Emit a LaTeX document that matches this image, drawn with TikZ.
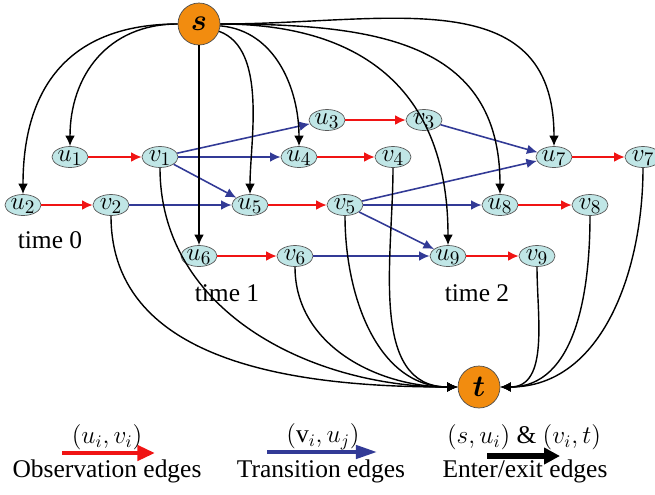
\documentclass[tikz,border=0pt]{standalone}
\usepackage{fontspec}
\setmainfont{Liberation Serif}
\usetikzlibrary{shapes.geometric, arrows.meta}
\definecolor{nodefill}{RGB}{192,230,230}
\definecolor{stfill}{RGB}{242,140,15}
\definecolor{obsred}{RGB}{240,20,20}
\definecolor{transblue}{RGB}{50,58,150}

\begin{document}
\begin{tikzpicture}[x=0.02cm, y=-0.02cm, >={Latex[length=6pt,width=5.5pt]},
		state/.style={ellipse, draw=gray!70!black, fill=nodefill, inner sep=0pt, text height=6.5pt, text depth=1.5pt, minimum width=0.72cm, minimum height=0.42cm, font=\fontsize{15}{17}\selectfont},
		term/.style={circle, draw=gray!60!black, fill=stfill, minimum size=0.84cm, inner sep=0pt, font=\fontsize{17}{19}\selectfont\boldmath},
		obs/.style={->, obsred, line width=0.8pt},
		trans/.style={->, transblue, line width=0.9pt},
		enter/.style={->, black, line width=0.8pt},
		lbl/.style={font=\fontsize{14.5}{17}\selectfont}]
			\useasboundingbox (0,0) rectangle (655,494);

			\node (s)[term] at (199,24) {$s$};
			\node (t)[term] at (479,387) {$t$};

			\node (u1)[state] at (70,157) {$u_1$};
			\node (v1)[state] at (160,157) {$v_1$};
			\node (u2)[state] at (23,205) {$u_2$};
			\node (v2)[state] at (111,205) {$v_2$};
			\node (T0)[lbl] at (50,240) {time 0};

			\node (u3)[state] at (327,120) {$u_3$};
			\node (v3)[state] at (424,120) {$v_3$};
			\node (u4)[state] at (299,157) {$u_4$};
			\node (v4)[state] at (393,157) {$v_4$};
			\node (u5)[state] at (250,205) {$u_5$};
			\node (v5)[state] at (345,205) {$v_5$};
			\node (u6)[state] at (199,256) {$u_6$};
			\node (v6)[state] at (295,256) {$v_6$};
			\node (T1)[lbl] at (227,293) {time 1};

			\node (u7)[state] at (554,157) {$u_7$};
			\node (v7)[state] at (643,157) {$v_7$};
			\node (u8)[state] at (500,205) {$u_8$};
			\node (v8)[state] at (590,205) {$v_8$};
			\node (u9)[state] at (448,256) {$u_9$};
			\node (v9)[state] at (537,256) {$v_9$};
			\node (T2)[lbl] at (477,293) {time 2};

			% observation edges
			\draw[obs] (u1) -- (v1);
			\draw[obs] (u2) -- (v2);
			\draw[obs] (u3) -- (v3);
			\draw[obs] (u4) -- (v4);
			\draw[obs] (u5) -- (v5);
			\draw[obs] (u6) -- (v6);
			\draw[obs] (u7) -- (v7);
			\draw[obs] (u8) -- (v8);
			\draw[obs] (u9) -- (v9);

			% transition edges
			\draw[trans] (v1) -- (u3);
			\draw[trans] (v1) -- (u4);
			\draw[trans] (v1) -- (u5);
			\draw[trans] (v2) -- (u5);
			\draw[trans] (v3) -- (u7);
			\draw[trans] (v5) -- (u7);
			\draw[trans] (v5) -- (u8);
			\draw[trans] (v5) -- (u9);
			\draw[trans] (v6) -- (u9);

			% enter edges
			\draw[enter] (s) to[out=180, in=90, looseness=1.2] (u2);
			\draw[enter] (s) to[out=180, in=90, looseness=1.1] (u1);
			\draw[enter] (s) -- (u6);
			\draw[enter] (s) to[out=-20, in=90, looseness=0.8] (u5);
			\draw[enter] (s) to[out=-5, in=90] (u4);
			\draw[enter] (s) to[out=0, in=90, looseness=1.2] (u9);
			\draw[enter] (s) to[out=0, in=90, looseness=1.2] (u8);
			\draw[enter] (s) to[out=0, in=90, looseness=1.2] (u7);

			% exit edges
			\draw[enter] (v2) to[out=270, in=180] (t);
			\draw[enter] (v1) to[out=270, in=180] (t);
			\draw[enter] (v6) to[out=270, in=180] (t);
			\draw[enter] (v5) to[out=270, in=180] (t);
			\draw[enter] (v4) to[out=270, in=180] (t);
			\draw[enter] (v9) to[out=270, in=0] (t);
			\draw[enter] (v8) to[out=270, in=0] (t);
			\draw[enter] (v7) to[out=270, in=0] (t);

			% legend
			\coordinate (oa) at (62,453);
			\coordinate (ob) at (155,453);
			\coordinate (ta) at (267,452);
			\coordinate (tb) at (377,452);
			\coordinate (ea) at (487,456);
			\coordinate (eb) at (560,456);
			\draw[-{Triangle[length=10pt,width=8.5pt]}, obsred, line width=2.6pt] (oa) -- (ob);
			\draw[-{Triangle[length=12pt,width=7.5pt]}, transblue, line width=2.2pt] (ta) -- (tb);
			\draw[-{Triangle[length=9pt,width=9pt]}, black, line width=3pt] (ea) -- (eb);
			\node (OL)[lbl] at (107,437) {$(u_i,v_i)$};
			\node (OE)[lbl] at (107,471) {Observation edges};
			\node (TL)[lbl] at (323,437) {$(\mathrm{v}_i,u_j)$};
			\node (TE)[lbl] at (321,471) {Transition edges};
			\node (EL)[lbl] at (524,437) {$(s,u_i)$ \& $(v_i,t)$};
			\node (EE)[lbl] at (525,471) {Enter/exit edges};
		\end{tikzpicture}
\end{document}
